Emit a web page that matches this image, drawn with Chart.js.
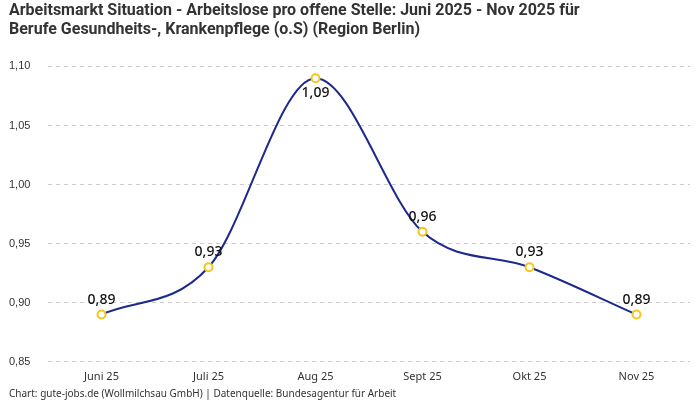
<!DOCTYPE html>
<html><head><meta charset="utf-8">
<script src="https://cdn.jsdelivr.net/npm/chart.js@4"></script>
<style>html,body{margin:0;padding:0;background:#fff}#w{width:700px;height:400px}</style>
</head><body><div id="w"><canvas id="c"></canvas></div>
<script>
const categories = ["Juni 25","Juli 25","Aug 25","Sept 25","Okt 25","Nov 25"];
const values = [0.89,0.93,1.09,0.96,0.93,0.89];
const labelBelow = [false,false,true,false,false,false];
const titleLines = ["Arbeitsmarkt Situation - Arbeitslose pro offene Stelle: Juni 2025 - Nov 2025 für","Berufe Gesundheits-, Krankenpflege (o.S) (Region Berlin)"];
const footerText = "Chart: gute-jobs.de (Wollmilchsau GmbH) | Datenquelle: Bundesagentur für Arbeit";

const fmt = v => v.toFixed(2).replace('.', ',');

const valueLabels = {
  id:'valueLabels',
  afterDatasetsDraw(chart){
    const ctx = chart.ctx;
    const meta = chart.getDatasetMeta(0);
    ctx.save();
    ctx.font = '500 14px "Noto Sans", Roboto, sans-serif';
    ctx.fillStyle = '#111';
    ctx.textAlign = 'center';
    ctx.textBaseline = 'middle';
    meta.data.forEach((pt,i)=>{
      const dy = labelBelow[i] ? 15 : -15;
      ctx.fillText(fmt(values[i]), pt.x, pt.y + dy);
    });
    ctx.restore();
  }
};

new Chart(document.getElementById('c'), {
  type:'line',
  data:{labels:categories, datasets:[{
    data:values,
    borderColor:'#1b2a8c',
    borderWidth:2,
    cubicInterpolationMode:'monotone',
    pointBackgroundColor:'#fff',
    pointBorderColor:'#f5c518',
    pointBorderWidth:2,
    pointRadius:4,
    fill:false
  }]},
  options:{
    responsive:true, maintainAspectRatio:false, animation:false,
    layout:{padding:{left:9,right:10,top:0,bottom:0}},
    plugins:{
      legend:{display:false}, tooltip:{enabled:false},
      title:{display:true, text:titleLines, align:'start', color:'#333',
        font:{family:'Roboto, "Noto Sans", sans-serif', size:16, weight:'bold', lineHeight:1.2},
        padding:{top:1,bottom:27}},
      subtitle:{display:true, text:footerText, position:'bottom', align:'start', color:'#333',
        font:{family:'"Noto Sans", Roboto, sans-serif', size:10}, padding:{top:0,bottom:0}}
    },
    scales:{
      x:{offset:true, grid:{display:false, drawTicks:false}, border:{display:false},
        afterFit:s=>{s.height=s.height-3;},
        ticks:{color:'#333', font:{family:'"Noto Sans", Roboto, sans-serif', size:11}, padding:8}},
      y:{min:0.85, max:1.10, border:{display:false, dash:[4,4]},
        grid:{color:'#ccc', drawTicks:false},
        afterFit:s=>{s.width=39;},
        ticks:{stepSize:0.05, color:'#333', padding:0, crossAlign:'far',
          font:{family:'"Liberation Sans", Arial, sans-serif', size:11},
          callback:v=>fmt(v)}}
    }
  },
  plugins:[valueLabels]
});
</script></body></html>
